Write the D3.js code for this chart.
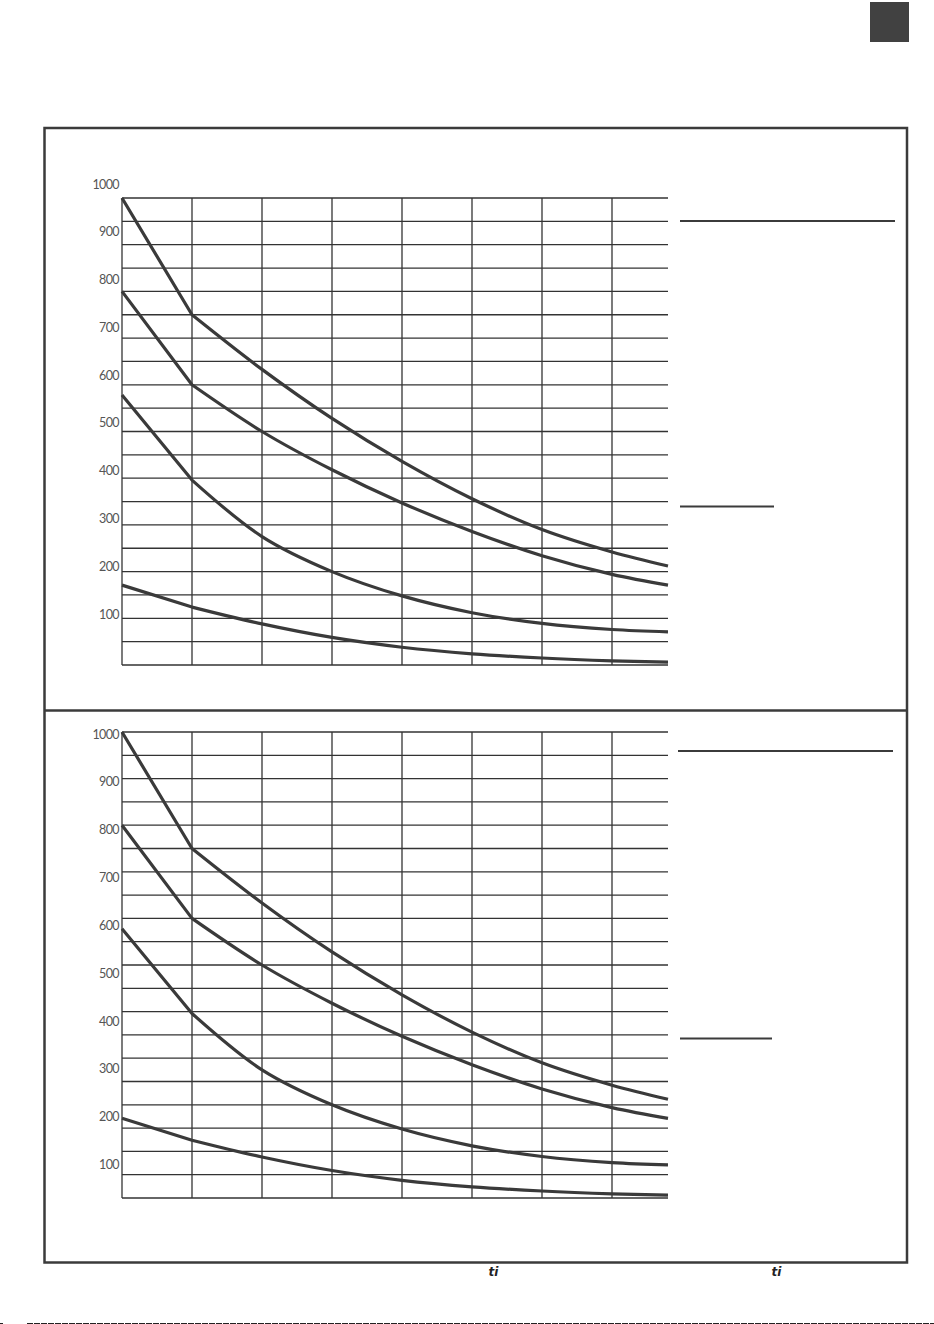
<!DOCTYPE html>
<html><head><meta charset="utf-8">
<script src="https://cdn.jsdelivr.net/npm/d3@7"></script>
<style>html,body{margin:0;padding:0;background:#fff;}svg{display:block;}</style>
</head><body>
<script>
// ---- data ----
const xSteps = [0, 1, 2, 3, 4, 5, 6, 7, 7.8];
const curveA = [1000, 750, 633, 528, 436, 356, 290, 242, 212];
const curveB = [800, 600, 500, 418, 347, 286, 234, 194, 171];
const curveC = [578, 396, 275, 200, 148, 112, 89, 76, 71];
const curveD = [171, 124, 88, 59, 38, 24, 15, 9, 6];
const yTickLabels = [100, 200, 300, 400, 500, 600, 700, 800, 900, 1000];
const gridYValues = d3.range(0, 1001, 50);
const gridXValues = [0, 1, 2, 3, 4, 5, 6, 7];
const footerMarks = ["ti", "ti"];

const W = 934, H = 1324;
const ink = "#3b3b3b";
const svg = d3.select("body").append("svg").attr("width", W).attr("height", H);

// top-right square
svg.append("rect").attr("x", 870).attr("y", 2).attr("width", 39).attr("height", 40).attr("fill", "#414141");

// frame
svg.append("rect").attr("x", 44.5).attr("y", 128).attr("width", 862.5).attr("height", 1134.5)
  .attr("fill", "none").attr("stroke", ink).attr("stroke-width", 2.5);
svg.append("line").attr("x1", 44).attr("x2", 907).attr("y1", 710.5).attr("y2", 710.5)
  .attr("stroke", ink).attr("stroke-width", 2.5);

function drawChart(cfg) {
  const g = svg.append("g");
  const x = d3.scaleLinear().domain([0, 7.8]).range([122, 668]);
  const y = d3.scaleLinear().domain([0, 1000]).range([cfg.bottom, cfg.top]);
  const yLab = d3.scaleLinear().domain([100, 1000]).range(cfg.labelRange);

  g.selectAll("line.h").data(gridYValues).join("line")
    .attr("x1", x(0)).attr("x2", x(7.8))
    .attr("y1", d => y(d)).attr("y2", d => y(d))
    .attr("stroke", "#333").attr("stroke-width", 1.3);
  g.selectAll("line.v").data(gridXValues).join("line")
    .attr("x1", d => x(d)).attr("x2", d => x(d))
    .attr("y1", y(1000)).attr("y2", y(0))
    .attr("stroke", "#333").attr("stroke-width", 1.3);

  g.selectAll("text.tl").data(yTickLabels).join("text")
    .attr("x", 119).attr("y", d => yLab(d)).attr("dy", "0.36em")
    .attr("text-anchor", "end")
    .attr("font-family", "Lato, 'Open Sans', sans-serif")
    .attr("font-size", 12.5).attr("letter-spacing", -0.6)
    .attr("fill", "#555")
    .text(d => d);

  [curveA, curveB, curveC, curveD].forEach(vals => {
    const pts = vals.map((v, i) => [xSteps[i], v]);
    const lin = d3.line().x(d => x(d[0])).y(d => y(d[1])).curve(d3.curveLinear);
    const smooth = d3.line().x(d => x(d[0])).y(d => y(d[1])).curve(d3.curveCatmullRom.alpha(0.5));
    const p = lin(pts.slice(0, 2)) + "L" + smooth(pts.slice(1)).slice(1);
    g.append("path").attr("d", p).attr("fill", "none")
      .attr("stroke", "#3a3a3a").attr("stroke-width", 3.2)
      .attr("stroke-linejoin", "round");
  });

  g.append("line").attr("x1", cfg.leg1[0]).attr("x2", cfg.leg1[1]).attr("y1", cfg.leg1[2]).attr("y2", cfg.leg1[2])
    .attr("stroke", ink).attr("stroke-width", 2);
  g.append("line").attr("x1", cfg.leg2[0]).attr("x2", cfg.leg2[1]).attr("y1", cfg.leg2[2]).attr("y2", cfg.leg2[2])
    .attr("stroke", ink).attr("stroke-width", 2);
}

drawChart({ top: 198, bottom: 665, labelRange: [614, 184], leg1: [680, 895, 221], leg2: [680, 774, 506.5] });
drawChart({ top: 732, bottom: 1198, labelRange: [1164.5, 734], leg1: [678, 893, 751], leg2: [680, 772, 1038.5] });

svg.selectAll("text.ft").data(footerMarks).join("text")
  .attr("x", (d, i) => [493.5, 776.5][i]).attr("y", 1276)
  .attr("text-anchor", "middle")
  .attr("font-family", "'DejaVu Sans', sans-serif").attr("font-weight", "bold").attr("font-style", "italic")
  .attr("font-size", 12).attr("fill", "#222")
  .text(d => d);

svg.append("line").attr("x1", 27).attr("x2", 934).attr("y1", 1323.5).attr("y2", 1323.5)
  .attr("stroke", "#222").attr("stroke-width", 1).attr("stroke-dasharray", "6 1");
svg.append("line").attr("x1", 0).attr("x2", 3).attr("y1", 1323.5).attr("y2", 1323.5)
  .attr("stroke", "#222").attr("stroke-width", 1);
</script>
</body></html>
